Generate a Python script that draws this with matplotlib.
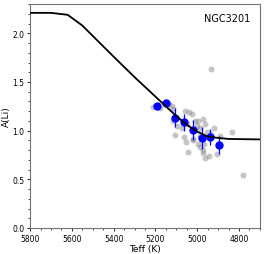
import matplotlib
matplotlib.use('Agg')
import matplotlib.pyplot as plt
import numpy as np
from matplotlib.ticker import MultipleLocator

# Modelo (linha preta)
model_teff = [5800, 5700, 5620, 5550, 5400, 5300, 5200, 5100, 5050, 5000,
              4950, 4900, 4850, 4800, 4700]
model_ali = [2.21, 2.21, 2.19, 2.08, 1.76, 1.55, 1.35, 1.15, 1.06, 0.99,
             0.94, 0.925, 0.915, 0.913, 0.91]

# Estrelas individuais (cinza)
star_teff = [4935, 5210, 5178, 5133, 5122, 5114, 5058, 5039, 5026, 5114,
             5095, 5105, 5062, 5074, 5050, 5010, 4995, 4971, 5002, 4987,
             4963, 5018, 4995, 4987, 4966, 5043, 4971, 4942, 4963, 4907,
             4955, 4933, 4920, 4891, 4833, 4780, 5052, 5020, 4972, 4987]
star_ali = [1.63, 1.24, 1.23, 1.27, 1.25, 1.22, 1.20, 1.19, 1.17, 1.10,
            1.05, 0.96, 0.93, 1.03, 1.07, 1.10, 1.10, 1.12, 1.05, 1.03,
            1.07, 0.91, 0.86, 0.83, 0.86, 0.78, 0.77, 0.74, 0.72, 0.76,
            0.99, 0.97, 1.03, 0.95, 0.99, 0.54, 0.88, 0.90, 0.80, 0.94]

# Médias por bin (azul)
bin_teff = [5191, 5148, 5106, 5065, 5022, 4978, 4937, 4894]
bin_ali = [1.25, 1.28, 1.135, 1.084, 1.005, 0.926, 0.937, 0.851]
bin_err = [0.0, 0.0, 0.10, 0.085, 0.10, 0.11, 0.085, 0.09]

fig = plt.figure(figsize=(2.66, 2.55), dpi=100)
ax = fig.add_axes([0.113, 0.102, 0.864, 0.878])

ax.plot(star_teff, star_ali, 'o', color='grey', alpha=0.45, ms=4.3, mec='none')
ax.errorbar(bin_teff, bin_ali, yerr=bin_err, fmt='o', color='blue', ms=5,
            elinewidth=0.9, capsize=0, zorder=3)
ax.plot(model_teff, model_ali, 'k-', lw=1.3, zorder=4)

ax.set_xlim(5800, 4700)
ax.set_ylim(0, 2.3)
ax.xaxis.set_major_locator(MultipleLocator(200))
ax.xaxis.set_minor_locator(MultipleLocator(50))
ax.yaxis.set_major_locator(MultipleLocator(0.5))
ax.yaxis.set_minor_locator(MultipleLocator(0.1))
ax.tick_params(labelsize=5.5, length=2.5, width=0.6, pad=1.5)
ax.tick_params(which='minor', length=1.3, width=0.5)
ax.set_xlabel('Teff (K)', fontsize=6.5, labelpad=1)
ax.set_ylabel('A(Li)', fontsize=6.5, labelpad=1)
for s in ax.spines.values():
    s.set_color('0.45')
ax.text(0.96, 0.925, 'NGC3201', transform=ax.transAxes, ha='right',
        fontsize=7)

fig.savefig('out.png', dpi=100)
